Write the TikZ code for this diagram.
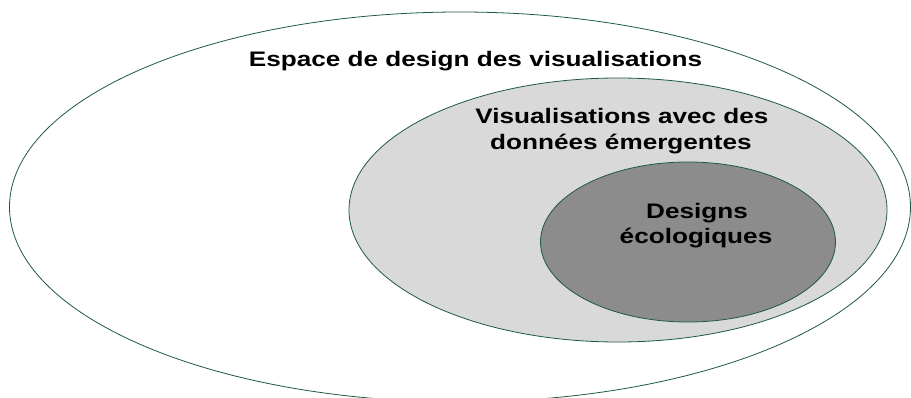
\documentclass[tikz,border=0pt]{standalone}
\usepackage{fontspec}
\setmainfont{Liberation Sans}
\newfontfamily\lblfont[FakeStretch=1.245]{Liberation Sans}
\usetikzlibrary{shapes.geometric}
\definecolor{edge}{RGB}{30,90,60}
\definecolor{midfill}{RGB}{217,217,217}
\definecolor{innerfill}{RGB}{140,140,140}
\begin{document}
\begin{tikzpicture}[x=1pt,y=-1pt,
  ring/.style={ellipse, draw=edge, line width=0.8pt, inner sep=0pt},
  lbl/.style={font=\lblfont\bfseries\fontsize{21}{27}\selectfont, anchor=base, inner sep=0pt}]
\useasboundingbox (0,0) rectangle (911,398);
\begin{scope}
\clip (0,0) rectangle (911,398);
\node[ring, minimum width=901pt, minimum height=390pt] (outer) at (460,207) {};
\node[ring, fill=midfill, minimum width=538pt, minimum height=264pt] (mid) at (618,210) {};
\node[ring, fill=innerfill, minimum width=295pt, minimum height=160pt] (inner) at (688,242) {};
\end{scope}
\node[lbl] (t1) at (475.5,67) {Espace de design des visualisations};
\node[lbl] (t2) at (622,123.5) {Visualisations avec des};
\node[lbl] (t3) at (621,150) {données émergentes};
\node[lbl] (t4) at (697,218.5) {Designs};
\node[lbl] (t5) at (696,243.5) {écologiques};
\end{tikzpicture}
\end{document}
